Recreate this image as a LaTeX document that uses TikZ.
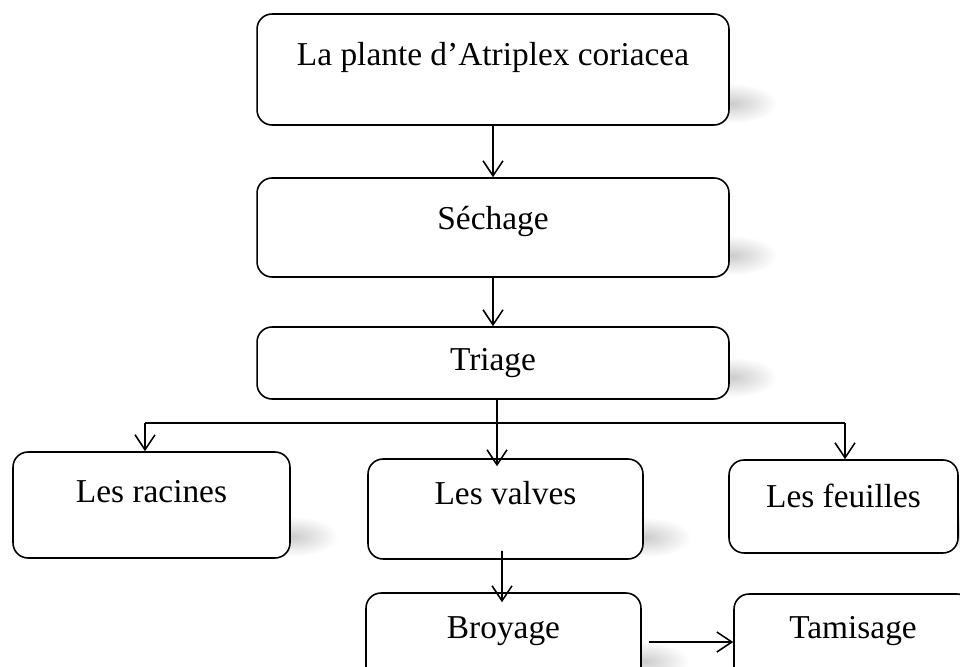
\documentclass[tikz,border=0pt]{standalone}
\usepackage{fontspec}
\setmainfont{Liberation Serif}
\usetikzlibrary{arrows.meta,backgrounds}

\begin{document}
\begin{tikzpicture}[x=0.02cm, y=-0.02cm, line width=0.9pt, every node/.style={font=\fontsize{19}{23}\selectfont}, >={Straight Barb[length=3mm,width=4mm]}, box/.style={draw, rounded corners=0.3cm, fill=white, inner sep=0pt, text height=0.5cm}]
	\useasboundingbox (0,0) rectangle (960,666);
	\clip (0,0) rectangle (960,666);
	\node[box, minimum width=9.44cm, minimum height=2.22cm, text depth=0.68cm] (plante) at (493,69.5) {La plante d’Atriplex coriacea};
	\node[box, minimum width=9.44cm, minimum height=1.98cm, text depth=0.44cm] (sechage) at (493,227.5) {Séchage};
	\node[box, minimum width=9.44cm, minimum height=1.44cm, text depth=0.22cm] (triage) at (493,363) {Triage};
	\node[box, minimum width=5.54cm, minimum height=2.12cm, text depth=0.62cm] (racines) at (151.5,505) {Les racines};
	\node[box, minimum width=5.5cm, minimum height=2cm, text depth=0.7cm] (valves) at (505.5,509) {Les valves};
	\node[box, minimum width=4.58cm, minimum height=1.86cm, text depth=0.48cm] (feuilles) at (843.5,506.5) {Les feuilles};
	\node[box, minimum width=5.5cm, minimum height=1.8cm, text depth=0.5cm] (broyage) at (503.5,638) {Broyage};
	\node[box, minimum width=4.76cm, minimum height=1.8cm, text depth=0.54cm] (tamisage) at (853,639) {Tamisage};
	\begin{scope}[on background layer]
		\foreach \n in {plante,sechage,triage,racines,valves,feuilles,broyage,tamisage}
			\shade[inner color=black!20, outer color=white] ([xshift=0.05cm,yshift=0.45cm]\n.south east) ellipse [x radius=0.9cm, y radius=0.4cm];
	\end{scope}
	\coordinate (fork) at (497,423);
	\coordinate (lft) at (145,423);
	\coordinate (rgt) at (845,423);
	\draw[->] (plante.south) -- (sechage.north);
	\draw[->] (sechage.south) -- (triage.north);
	\draw[->] (triage.south -| fork) -- ([xshift=-0.17cm,yshift=-0.16cm]valves.north);
	\draw (lft) -- (rgt);
	\draw[->] (lft) -- (lft |- racines.north);
	\draw[->] (rgt) -- (rgt |- feuilles.north);
	\draw[->] ([xshift=-0.07cm,yshift=0.18cm]valves.south) -- ([xshift=-0.03cm,yshift=-0.2cm]broyage.north);
	\draw[->] ([xshift=0.14cm,yshift=-0.08cm]broyage.east) -- ([yshift=-0.06cm]tamisage.west);
\end{tikzpicture}
\end{document}
